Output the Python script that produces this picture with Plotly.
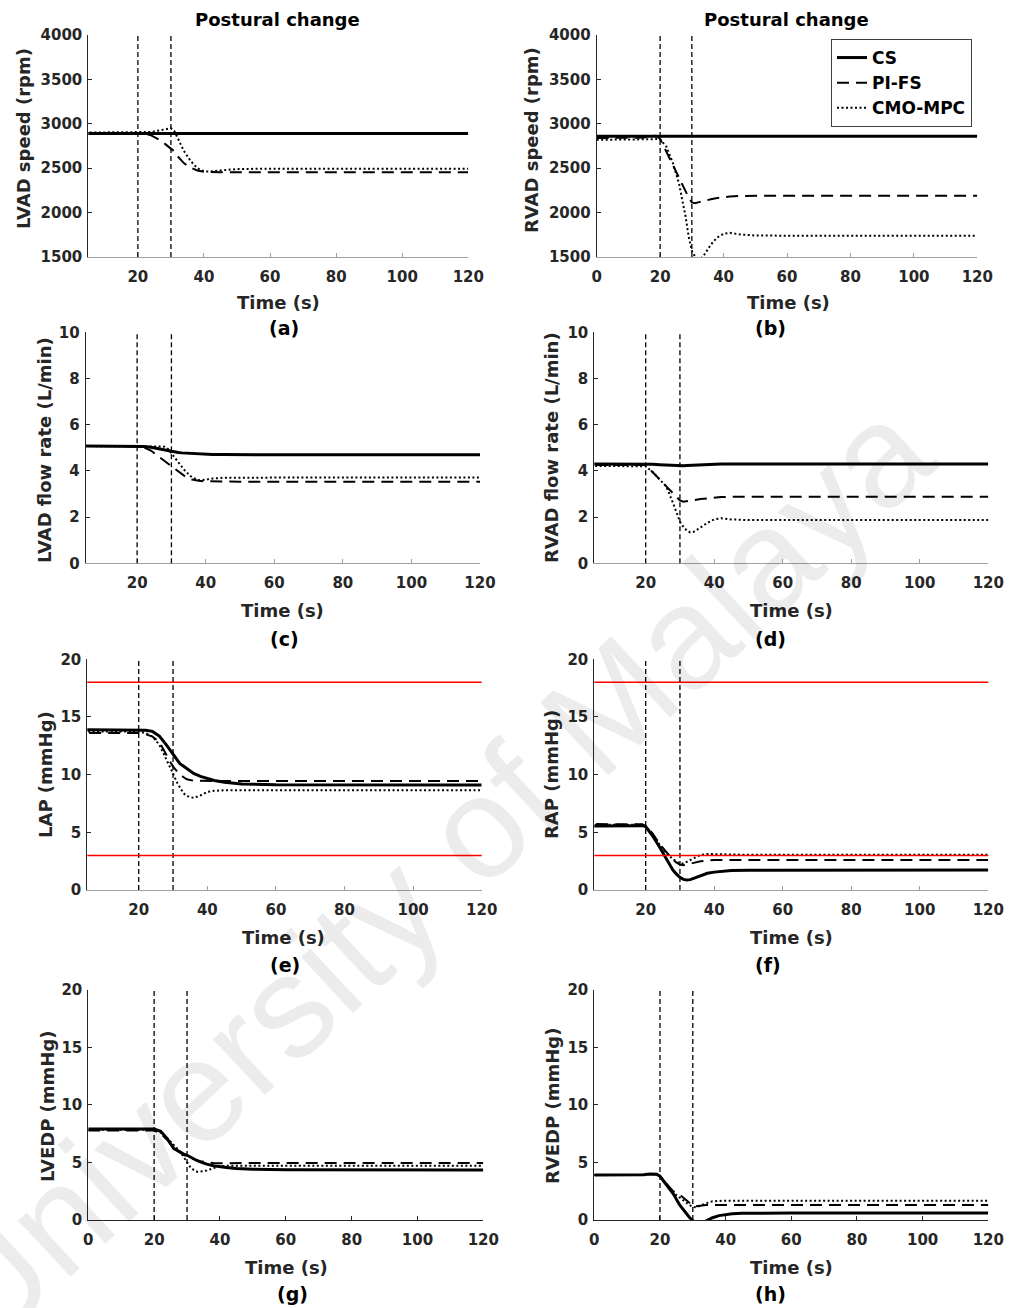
import plotly.graph_objects as go

W, H = 1013, 1308

# ---------------- data ----------------
TIME = [0, 5, 10, 15, 17, 19, 20, 22, 24, 26, 28, 29, 30, 31, 32, 33, 34, 36, 38, 40, 42, 45, 50, 60, 80, 100, 120]

LVAD_SPEED_CS = [2890, 2890, 2890, 2890, 2890, 2890, 2890, 2890, 2890, 2890, 2890, 2890, 2890, 2890, 2890, 2890, 2890, 2890, 2890, 2890, 2890, 2890, 2890, 2890, 2890, 2890, 2890]
LVAD_SPEED_PI = [2890, 2890, 2890, 2890, 2890, 2890, 2890, 2888, 2870, 2830, 2780, 2752, 2720, 2690, 2635, 2590, 2555, 2505, 2475, 2460, 2456, 2455, 2455, 2455, 2455, 2455, 2455]
LVAD_SPEED_MPC = [2900, 2900, 2900, 2900, 2900, 2900, 2900, 2902, 2908, 2922, 2940, 2947, 2950, 2920, 2840, 2760, 2690, 2580, 2500, 2465, 2462, 2475, 2490, 2495, 2495, 2495, 2495]

RVAD_SPEED_CS = [2860, 2860, 2860, 2860, 2860, 2860, 2860, 2860, 2860, 2860, 2860, 2860, 2860, 2860, 2860, 2860, 2860, 2860, 2860, 2860, 2860, 2860, 2860, 2860, 2860, 2860, 2860]
RVAD_SPEED_PI = [2840, 2840, 2840, 2845, 2868, 2862, 2830, 2680, 2530, 2380, 2230, 2170, 2115, 2105, 2115, 2125, 2135, 2150, 2165, 2175, 2182, 2188, 2190, 2190, 2190, 2190, 2190]
RVAD_SPEED_MPC = [2820, 2820, 2820, 2822, 2826, 2830, 2825, 2740, 2560, 2320, 1960, 1730, 1570, 1505, 1480, 1490, 1530, 1640, 1720, 1762, 1772, 1755, 1742, 1740, 1740, 1740, 1740]

LVAD_FLOW_CS = [5.08, 5.08, 5.08, 5.08, 5.08, 5.08, 5.08, 5.06, 5.02, 4.96, 4.89, 4.86, 4.84, 4.82, 4.80, 4.78, 4.77, 4.75, 4.74, 4.72, 4.71, 4.71, 4.70, 4.70, 4.70, 4.70, 4.70]
LVAD_FLOW_PI = [5.08, 5.08, 5.08, 5.08, 5.08, 5.08, 5.07, 5.02, 4.88, 4.65, 4.42, 4.31, 4.20, 4.07, 3.96, 3.86, 3.76, 3.63, 3.57, 3.55, 3.54, 3.53, 3.53, 3.53, 3.53, 3.53, 3.53]
LVAD_FLOW_MPC = [5.08, 5.08, 5.08, 5.08, 5.08, 5.08, 5.08, 5.08, 5.07, 5.06, 5.05, 4.95, 4.75, 4.55, 4.37, 4.18, 4.00, 3.72, 3.60, 3.62, 3.67, 3.70, 3.71, 3.71, 3.71, 3.71, 3.71]

RVAD_FLOW_CS = [4.30, 4.30, 4.30, 4.30, 4.31, 4.30, 4.30, 4.29, 4.27, 4.25, 4.23, 4.22, 4.22, 4.22, 4.23, 4.24, 4.25, 4.27, 4.28, 4.29, 4.30, 4.30, 4.30, 4.30, 4.30, 4.30, 4.30]
RVAD_FLOW_PI = [4.25, 4.25, 4.25, 4.25, 4.28, 4.27, 4.25, 3.95, 3.65, 3.35, 3.05, 2.88, 2.72, 2.67, 2.68, 2.70, 2.73, 2.78, 2.82, 2.85, 2.87, 2.88, 2.88, 2.88, 2.88, 2.88, 2.88]
RVAD_FLOW_MPC = [4.22, 4.22, 4.22, 4.22, 4.23, 4.22, 4.20, 3.95, 3.65, 3.33, 2.60, 2.16, 1.80, 1.58, 1.42, 1.34, 1.36, 1.55, 1.75, 1.90, 1.95, 1.90, 1.87, 1.87, 1.87, 1.87, 1.87]

LAP_CS = [13.9, 13.9, 13.9, 13.9, 13.9, 13.9, 13.9, 13.85, 13.75, 13.35, 12.6, 12.2, 11.75, 11.3, 10.95, 10.75, 10.55, 10.1, 9.85, 9.65, 9.5, 9.35, 9.2, 9.12, 9.1, 9.1, 9.1]
LAP_PI = [13.6, 13.6, 13.6, 13.6, 13.6, 13.6, 13.6, 13.5, 13.3, 12.85, 11.7, 11.2, 10.7, 10.3, 10.0, 9.8, 9.6, 9.47, 9.45, 9.45, 9.45, 9.45, 9.45, 9.45, 9.45, 9.45, 9.45]
LAP_MPC = [13.75, 13.75, 13.75, 13.75, 13.75, 13.75, 13.75, 13.6, 13.3, 12.6, 11.4, 10.75, 10.1, 9.4, 8.85, 8.4, 8.15, 7.98, 8.2, 8.5, 8.6, 8.65, 8.65, 8.65, 8.65, 8.65, 8.65]

RAP_CS = [5.55, 5.55, 5.55, 5.55, 5.6, 5.58, 5.5, 4.7, 3.75, 2.7, 1.7, 1.38, 1.1, 0.92, 0.87, 0.9, 1.0, 1.25, 1.45, 1.55, 1.62, 1.68, 1.72, 1.73, 1.73, 1.73, 1.73]
RAP_PI = [5.72, 5.72, 5.72, 5.72, 5.75, 5.7, 5.55, 4.9, 4.0, 3.25, 2.6, 2.38, 2.2, 2.15, 2.2, 2.28, 2.35, 2.5, 2.57, 2.6, 2.6, 2.6, 2.6, 2.6, 2.6, 2.6, 2.6]
RAP_MPC = [5.65, 5.65, 5.65, 5.65, 5.7, 5.66, 5.5, 4.85, 3.95, 3.2, 2.65, 2.45, 2.3, 2.3, 2.45, 2.62, 2.8, 3.05, 3.12, 3.1, 3.08, 3.05, 3.05, 3.05, 3.05, 3.05, 3.05]

LVEDP_CS = [7.9, 7.9, 7.9, 7.9, 7.9, 7.9, 7.9, 7.7, 7.05, 6.2, 5.85, 5.72, 5.62, 5.45, 5.3, 5.17, 5.05, 4.85, 4.72, 4.63, 4.56, 4.48, 4.4, 4.36, 4.35, 4.35, 4.35]
LVEDP_PI = [7.78, 7.78, 7.78, 7.78, 7.78, 7.78, 7.78, 7.5, 6.95, 6.25, 5.8, 5.65, 5.5, 5.37, 5.25, 5.17, 5.1, 5.0, 4.95, 4.92, 4.93, 4.95, 4.95, 4.95, 4.95, 4.95, 4.95]
LVEDP_MPC = [7.84, 7.84, 7.84, 7.84, 7.84, 7.84, 7.84, 7.6, 7.1, 6.5, 5.9, 5.45, 5.0, 4.6, 4.35, 4.2, 4.2, 4.3, 4.5, 4.65, 4.72, 4.72, 4.72, 4.72, 4.72, 4.72, 4.72]

RVEDP_CS = [3.9, 3.9, 3.9, 3.92, 4.0, 3.97, 3.8, 3.1, 2.3, 1.3, 0.55, 0.22, -0.05, -0.3, -0.4, -0.3, -0.1, 0.2, 0.38, 0.48, 0.54, 0.58, 0.6, 0.61, 0.61, 0.61, 0.61]
RVEDP_PI = [3.9, 3.9, 3.9, 3.92, 4.0, 3.97, 3.8, 3.1, 2.5, 2.2, 1.7, 1.45, 1.25, 1.2, 1.25, 1.28, 1.3, 1.3, 1.3, 1.3, 1.3, 1.3, 1.3, 1.3, 1.3, 1.3, 1.3]
RVEDP_MPC = [3.9, 3.9, 3.9, 3.92, 4.0, 3.97, 3.8, 3.1, 2.4, 1.95, 1.5, 1.3, 1.15, 1.1, 1.2, 1.32, 1.45, 1.62, 1.68, 1.68, 1.68, 1.68, 1.68, 1.68, 1.68, 1.68, 1.68]

EVENT_TIMES = [20, 30]
LAP_LIMITS = [18, 3]
SERIES_NAMES = ["CS", "PI-FS", "CMO-MPC"]
X_TICKS = [0, 20, 40, 60, 80, 100, 120]
SPEED_TICKS = [1500, 2000, 2500, 3000, 3500, 4000]
FLOW_TICKS = [0, 2, 4, 6, 8, 10]
PRESS_TICKS = [0, 5, 10, 15, 20]
Y_TITLES = ["LVAD speed (rpm)", "RVAD speed (rpm)", "LVAD flow rate (L/min)", "RVAD flow rate (L/min)",
            "LAP (mmHg)", "RAP (mmHg)", "LVEDP (mmHg)", "RVEDP (mmHg)"]
PANEL_LETTERS = ["(a)", "(b)", "(c)", "(d)", "(e)", "(f)", "(g)", "(h)"]

# ---------------- layout configuration (pixels) ----------------
FONT = "DejaVu Sans"
DARK = "#262626"


def px_x(v):
    return v / W


def px_y(v):
    return 1 - v / H


panels = [
    dict(data=(LVAD_SPEED_CS, LVAD_SPEED_PI, LVAD_SPEED_MPC), yr=[1500, 4000], yt=SPEED_TICKS, xr=[5, 120],
         box=(88.3, 468.3, 35, 257), xcol="#a0a0a0", ytit=(23, 139), xlab=(278, 302), let=(284, 328), red=False),
    dict(data=(RVAD_SPEED_CS, RVAD_SPEED_PI, RVAD_SPEED_MPC), yr=[1500, 4000], yt=SPEED_TICKS, xr=[0, 120],
         box=(596.7, 977.3, 35, 257), xcol="#a0a0a0", ytit=(532, 140), xlab=(788, 302), let=(770, 328), red=False),
    dict(data=(LVAD_FLOW_CS, LVAD_FLOW_PI, LVAD_FLOW_MPC), yr=[0, 10], yt=FLOW_TICKS, xr=[5, 120],
         box=(85.7, 480, 332.3, 563.3), xcol="#a0a0a0", ytit=(44, 450), xlab=(282, 610), let=(284, 639), red=False),
    dict(data=(RVAD_FLOW_CS, RVAD_FLOW_PI, RVAD_FLOW_MPC), yr=[0, 10], yt=FLOW_TICKS, xr=[5, 120],
         box=(594.3, 988.3, 332.3, 563.3), xcol="#a0a0a0", ytit=(551, 448), xlab=(791, 610), let=(770, 639), red=False),
    dict(data=(LAP_CS, LAP_PI, LAP_MPC), yr=[0, 20], yt=PRESS_TICKS, xr=[5, 120],
         box=(87.3, 481.7, 659.3, 890), xcol="#a0a0a0", ytit=(45, 775), xlab=(283, 937), let=(285, 965), red=True),
    dict(data=(RAP_CS, RAP_PI, RAP_MPC), yr=[0, 20], yt=PRESS_TICKS, xr=[5, 120],
         box=(594.3, 988.3, 659.3, 890), xcol="#a0a0a0", ytit=(551, 775), xlab=(791, 937), let=(768, 965), red=True),
    dict(data=(LVEDP_CS, LVEDP_PI, LVEDP_MPC), yr=[0, 20], yt=PRESS_TICKS, xr=[0, 120],
         box=(88.3, 483.3, 989.7, 1220), xcol=DARK, ytit=(47, 1106), xlab=(286, 1267), let=(292, 1294), red=False),
    dict(data=(RVEDP_CS, RVEDP_PI, RVEDP_MPC), yr=[0, 20], yt=PRESS_TICKS, xr=[0, 120],
         box=(594.3, 988.3, 989.7, 1220), xcol=DARK, ytit=(552, 1106), xlab=(791, 1267), let=(770, 1294), red=False),
]

styles = [
    dict(color="black", width=3, dash="solid"),
    dict(color="black", width=2, dash="12px,7px"),
    dict(color="black", width=2, dash="2px,2.5px"),
]

fig = go.Figure()
shapes = []
annotations = []
layout = {}

tickfont = dict(family=FONT, size=15, color=DARK, weight="bold")
labfont = dict(family=FONT, size=18, color=DARK, weight="bold")

for i, p in enumerate(panels):
    n = i + 1
    xa = "x" if n == 1 else f"x{n}"
    ya = "y" if n == 1 else f"y{n}"
    l, r, t, b = p["box"]
    layout["xaxis" if n == 1 else f"xaxis{n}"] = dict(
        domain=[px_x(l), px_x(r)], anchor=ya, range=p["xr"], tickvals=X_TICKS,
        showline=True, linecolor=p["xcol"], linewidth=1, ticks="inside", ticklen=4,
        tickcolor=p["xcol"], showgrid=False, zeroline=False, tickfont=tickfont,
        ticklabelstandoff=6, fixedrange=True, automargin=False)
    layout["yaxis" if n == 1 else f"yaxis{n}"] = dict(
        domain=[px_y(b), px_y(t)], anchor=xa, range=p["yr"], tickvals=p["yt"],
        showline=True, linecolor=DARK, linewidth=1, ticks="inside", ticklen=4,
        tickcolor=DARK, showgrid=False, zeroline=False, tickfont=tickfont,
        ticklabelstandoff=2, fixedrange=True, automargin=False)
    for k, (vals, st, nm) in enumerate(zip(p["data"], styles, SERIES_NAMES)):
        fig.add_trace(go.Scatter(
            x=TIME, y=vals, mode="lines", name=nm, line=st, xaxis=xa, yaxis=ya,
            showlegend=(i == 1), legendgroup=nm, hoverinfo="skip"))
    for et in EVENT_TIMES:
        shapes.append(dict(type="line", xref=xa, yref=f"{ya} domain", x0=et, x1=et, y0=0, y1=1,
                           line=dict(color="black", width=1.3, dash="5px,3px"), layer="above"))
    if p["red"]:
        for lim in LAP_LIMITS:
            shapes.append(dict(type="line", xref=f"{xa} domain", yref=ya, x0=0, x1=1, y0=lim, y1=lim,
                               line=dict(color="#ff0000", width=1.5), layer="above"))
    annotations.append(dict(text=Y_TITLES[i], x=px_x(p["ytit"][0]), y=px_y(p["ytit"][1]), xref="paper", yref="paper",
                            textangle=-90, showarrow=False, font=labfont, xanchor="center", yanchor="middle"))
    annotations.append(dict(text="Time (s)", x=px_x(p["xlab"][0]), y=px_y(p["xlab"][1]), xref="paper", yref="paper",
                            showarrow=False, font=labfont, xanchor="center", yanchor="middle"))
    annotations.append(dict(text=PANEL_LETTERS[i], x=px_x(p["let"][0]), y=px_y(p["let"][1]), xref="paper", yref="paper",
                            showarrow=False, font=dict(family=FONT, size=19, color="black", weight="bold"),
                            xanchor="center", yanchor="middle"))

for cx in (277.5, 786.5):
    annotations.append(dict(text="Postural change", x=px_x(cx), y=px_y(20), xref="paper", yref="paper",
                            showarrow=False, font=dict(family=FONT, size=18, color="black", weight="bold"),
                            xanchor="center", yanchor="middle"))

# faint watermark
annotations.append(dict(text="University of Malaya", x=px_x(430), y=px_y(873), xref="paper", yref="paper",
                        showarrow=False, textangle=-43,
                        font=dict(family="Liberation Sans", size=145, color="rgba(0,0,0,0.075)"),
                        xanchor="center", yanchor="middle"))

fig.update_layout(
    width=W, height=H, margin=dict(l=0, r=0, t=0, b=0, pad=0, autoexpand=False),
    paper_bgcolor="white", plot_bgcolor="white",
    showlegend=True,
    legend=dict(x=px_x(831), y=px_y(39), xanchor="left", yanchor="top",
                bgcolor="white", bordercolor="#404040", borderwidth=1,
                font=dict(family=FONT, size=17, color="black", weight="bold"),
                itemwidth=30, tracegroupgap=0),
    shapes=shapes, annotations=annotations, **layout)

fig.write_html("out.html",
               post_script="document.body.style.margin='0';document.body.style.padding='0';")
